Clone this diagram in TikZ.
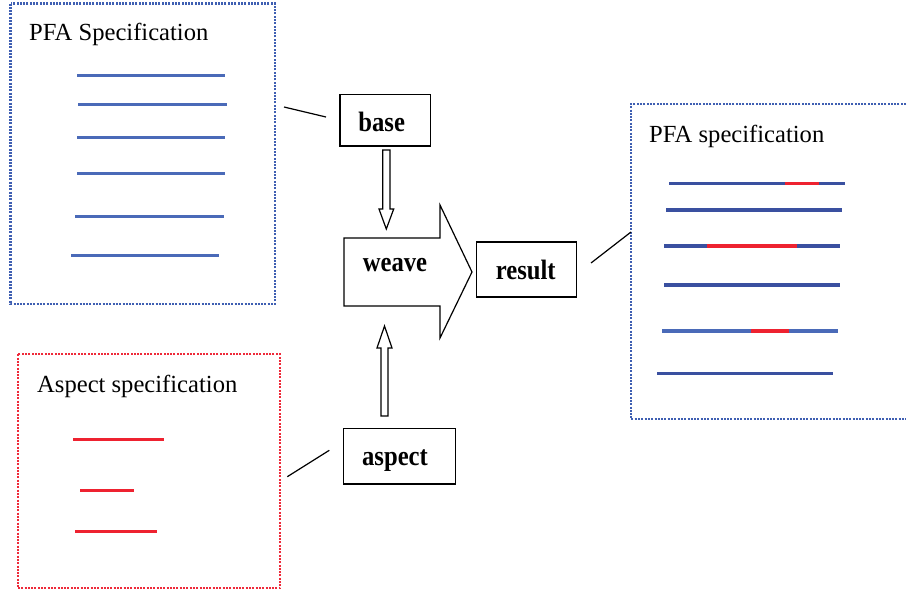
\documentclass[tikz,border=0pt]{standalone}
\usepackage{fontspec}
\setmainfont{Liberation Serif}
\definecolor{frameblue}{HTML}{3F5FB2}
\definecolor{framered}{HTML}{EE2A3A}
\definecolor{ruleblue}{HTML}{4A6AB8}
\definecolor{darkrule}{HTML}{3A50A0}
\definecolor{rulered}{HTML}{EE2230}
\newcommand{\steptext}[1]{\scalebox{0.88}[1]{#1}}
\begin{document}
\begin{tikzpicture}[x=1pt,y=-1pt,
  dotframe/.style={line width=2.3pt, dash pattern=on 2pt off 1.3pt},
  title/.style={anchor=base west, inner sep=0pt, font=\fontsize{24.6}{28}\selectfont},
  stepbox/.style={draw, line width=1.2pt, inner sep=0pt},
  steplabel/.style={anchor=base, inner sep=0pt, font=\fontsize{28}{30}\selectfont\bfseries},
  blockarrow/.style={draw, line width=1.2pt, line join=miter},
  link/.style={draw, line width=1.2pt},
  lrule/.style={ruleblue, line width=3pt},
  rrule/.style={darkrule, line width=3.6pt},
  redrule/.style={rulered, line width=3.6pt},
  arule/.style={rulered, line width=3pt}]
\useasboundingbox (0,0) rectangle (907,592);

% --- input PFA specification
\draw[frameblue, dotframe] (10.5,3.5) rectangle (275,304);
\node[title] (pfain) at (29,40) {PFA Specification};
\draw[lrule] (77,75) -- (225,75);
\draw[lrule] (78,104) -- (227,104);
\draw[lrule] (77,137) -- (225,137);
\draw[lrule] (77,173) -- (225,173);
\draw[lrule] (75,216) -- (224,216);
\draw[lrule] (71,255) -- (219,255);

% --- aspect specification
\draw[framered, dotframe] (17.7,354.3) rectangle (280,588.3);
\node[title] (aspin) at (37,392) {Aspect specification};
\draw[arule] (73,439.3) -- (164,439.3);
\draw[arule] (80,490.7) -- (134,490.7);
\draw[arule] (75,531.7) -- (157,531.7);

% --- woven PFA specification (open on the right)
\draw[frameblue, dotframe] (906,104.3) -- (630.7,104.3) -- (630.7,419) -- (906,419);
\node[title] (pfaout) at (649,142) {PFA specification};
\draw[rrule] (669,183.3) -- (845,183.3);
\draw[redrule] (785,183.3) -- (819,183.3);
\draw[rrule] (666,210) -- (842,210);
\draw[rrule] (664,245.7) -- (840,245.7);
\draw[redrule] (707,245.7) -- (797,245.7);
\draw[rrule] (664,284.7) -- (840,284.7);
\draw[lrule, line width=3.6pt] (662,331) -- (838,331);
\draw[redrule] (751,331) -- (789,331);
\draw[rrule] (657,373.3) -- (833,373.3);

% --- process boxes and their labels
\node[stepbox, minimum width=90.7pt, minimum height=51.3pt] (base) at (385.3,120.3) {};
\node[steplabel] (baselbl) at (381.7,131.7) {\steptext{base}};
\node[stepbox, minimum width=100pt, minimum height=55pt] (result) at (526.7,269.5) {};
\node[steplabel] (resultlbl) at (525.7,279.3) {\steptext{result}};
\node[stepbox, minimum width=112.4pt, minimum height=55.3pt] (aspect) at (399.5,456.3) {};
\node[steplabel] (aspectlbl) at (395,465.7) {\steptext{aspect}};

% --- weave block arrow
\draw[blockarrow] (344,238) -- (440,238) -- (440,205) -- (472,272) -- (440,338)
  -- (440,306) -- (344,306) -- cycle;
\node[steplabel] (weave) at (395,271) {\steptext{weave}};

% --- hollow arrows into weave
\draw[blockarrow] (382.7,150) -- (390,150) -- (390,209) -- (393.7,209) -- (386.3,229)
  -- (379,209) -- (382.7,209) -- cycle;
\draw[blockarrow] (381,416) -- (388,416) -- (388,348) -- (392,348) -- (384.5,326)
  -- (377,348) -- (381,348) -- cycle;

% --- connectors between specifications and boxes
\coordinate (c1a) at (284,107);
\coordinate (c1b) at (326,117);
\coordinate (c2a) at (287.3,476.7);
\coordinate (c2b) at (329.3,450.3);
\coordinate (c3a) at (591,263);
\coordinate (c3b) at (631,232);
\draw[link] (c1a) -- (c1b);
\draw[link] (c2a) -- (c2b);
\draw[link] (c3a) -- (c3b);
\end{tikzpicture}
\end{document}
